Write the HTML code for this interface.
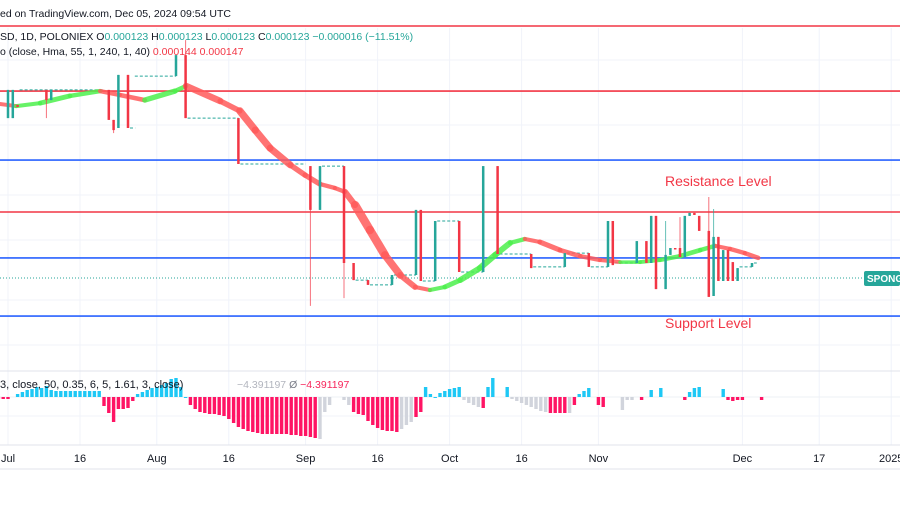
<!DOCTYPE html>
<html><head><meta charset="utf-8"><style>
body{margin:0;background:#fff;}
svg text{font-family:"Liberation Sans",sans-serif;}
</style></head><body>
<svg id="c" width="900" height="500" xmlns="http://www.w3.org/2000/svg">
<rect width="900" height="500" fill="#fff"/>
<g id="grid"></g>
<text x="0" y="17" font-size="10.5" fill="#131722">ed on TradingView.com, Dec 05, 2024 09:54 UTC</text>
<g id="levels"></g>
<g id="flats"></g>
<g id="hma"></g>
<g id="candles"></g>
<g id="osc"></g>
<text x="0" y="40" font-size="10.5" fill="#131722">SD, 1D, POLONIEX  O<tspan fill="#26a69a">0.000123</tspan>  H<tspan fill="#26a69a">0.000123</tspan>  L<tspan fill="#26a69a">0.000123</tspan>  C<tspan fill="#26a69a">0.000123</tspan>  <tspan fill="#26a69a">−0.000016 (−11.51%)</tspan></text>
<text x="0" y="55" font-size="10.5" fill="#131722">o (close, Hma, 55, 1, 240, 1, 40)  <tspan fill="#f23645">0.000144  0.000147</tspan></text>
<text x="665" y="186" font-size="14" fill="#f23645">Resistance Level</text>
<text x="665" y="328" font-size="14" fill="#f23645">Support Level</text>
<rect x="864" y="271" width="36" height="15" rx="2" fill="#26a69a"/>
<text x="867" y="282" font-size="10" font-weight="bold" fill="#fff">SPONG</text>
<text x="0" y="388" font-size="11" fill="#131722">3, close, 50, 0.35, 6, 5, 1.61, 3, close)</text>
<text x="237" y="388" font-size="10.5" fill="#b2b5be">−4.391197  <tspan fill="#787b86">Ø</tspan>  <tspan fill="#f7245a">−4.391197</tspan></text>
<g id="xaxis"></g>
</svg>
<script>
const levelPrices=[207,185.3,162.3,145,129.7,110.3];
const levelColors=["#f23645","#f23645","#2962ff","#f23645","#2962ff","#2962ff"];
const lastPrice=123;
const cDay=[-2,0,1,2,8,9,21,22,23,25,35,37,48,63,65,70,72,75,80,85,86,89,94,99,102,109,116,121,125,126,131,133,134,135,137,138,139,140,141,142,143,144,146,147,148,149,150,151,152,155];
const cOpen=[185.7,176.3,176.3,180.7,185.7,182.3,185.7,175.7,173,190.7,190.3,197.3,176.3,160.3,145.7,160.3,128,122.3,120.7,124,145.7,122,142,125,160.3,131,126.7,131.3,126.7,142,128,135.3,128,143.7,119.3,130.7,133,133,130,143.7,144.7,143.7,138.7,117,136.7,122,132.3,128.3,122,126.7];
const cClose=[176.3,185.7,185.7,180,182.3,185.7,175.7,172.3,190.7,173,197.3,176.3,161,145.7,160.3,128,122.3,120.7,124,145.7,122,142,125,160.3,131,126.3,131.3,126.7,142,127.3,135.3,128,143.7,119.3,130.7,133,132.5,130,143.7,144.7,144,138.7,116.7,136.7,122,132.3,122,122,126.3,128];
const cHigh=[185.7,185.7,185.7,180.7,185.7,185.7,185.7,175.7,190.7,190.7,197.3,202.3,176.3,160.3,160.3,160.3,128,122.3,124,145.7,145.7,142,142,160.3,160.3,131,131.3,131.3,142,142,135.3,135.3,143.7,143.7,142,133,133,143.3,143.7,144.7,144.7,143.7,150,146,136.7,132.3,132.3,128.3,126.3,128];
const cLow=[176.3,176.3,176.3,180,176.3,182.3,175.7,171.3,173,173,190.3,176.3,161,113.7,145.7,116.3,122.3,120.7,120.7,124,122,122,125,125,131,126.3,126.7,126.7,126.7,127.3,128,128,128,119.3,119.3,130.7,132.5,130,130,143.7,144,138.7,116.7,117,122,122,122,122,122,126.7];
const fStart=[2,25,26,37,48,65,72,75,80,86,89,94,102,109,116,121,126,152,155];
const fEnd=[20,26.5,35,48,62,70,75,80,85,89,94,99,109,116,121,125,131,155,156];
const fPrice=[185.7,173,190.3,176.3,161,160.3,122.3,120.7,124,122,142,125,131,126.7,131.3,126.7,128,126.7,128];
const hDay=[-1.7,1.7,6.7,12.9,19.2,23.3,28.5,34.8,37.1,44.2,48.3,51.5,54.6,58.8,61.9,65,68.1,70.2,72.3,75.4,78.5,81.7,84.8,87.9,91,94.2,98.3,101.5,104.6,107.7,110.8,115,119.2,123.3,127.5,131.7,135.8,140,144.2,147.3,150.4,153.5,156.3];
const hVal=[181,180.3,181.3,183.7,185.3,184,182.3,185.3,187,182,178.7,172.3,166.3,160.7,157.3,154.3,153,151.7,147.3,139,130.7,124,120,119,120,122.3,126.3,130.7,134.7,136,135,132.3,130.3,129,128.3,128.3,129,130.3,132.3,133.7,132.7,131.3,129.7];
const oDay=[-2,-1,0,2,3,4,5,6,7,8,9,10,11,12,13,14,15,16,17,18,19,20,21,22,23,24,25,26,27,28,29,30,31,32,33,34,35,36,37,38,39,40,41,42,43,44,45,46,47,48,49,50,51,52,53,54,55,56,57,58,59,60,61,62,63,64,65,66,67,70,71,72,73,74,75,76,77,78,79,80,81,82,83,84,85,86,87,88,89,90,91,92,93,94,95,96,97,98,99,100,101,104,105,106,107,108,109,110,111,112,113,114,115,116,117,118,119,120,121,123,124,128,129,130,132,134,136,141,142,143,144,149,150,151,152,153,157];
const oVal=[-2,-2,-2,3,5,7,8,10,9,11,7,6,6,6,6,6,6,6,6,6,6,-9,-16,-25,-12,-12,-11,-4,3,5,7,9,10,12,14,18,19,10,0,-8,-12,-15,-16,-17,-17,-18,-19,-22,-26,-30,-32,-34,-35,-36,-37,-37,-37,-37,-37,-37,-38,-38,-39,-39,-40,-41,-42,-15,-8,-3,-8,-15,-17,-18,-24,-28,-31,-33,-34,-34,-35,-32,-28,-25,-20,-15,10,3,0,4,6,8,9,10,-3,-6,-8,-10,-11,10,19,10,-2,-4,-6,-8,-10,-12,-14,-15,-16,-16,-16,-16,-16,-8,3,6,9,-8,-10,-13,-3,-3,-3,7,9,-3,5,9,10,8,-3,-4,-3,-3,-3,-4];
const tickLabels=["Jul","16","Aug","16","Sep","16","Oct","16","Nov","Dec","17","2025"];
const tickDays=[0,15,31,46,62,77,92,107,123,153,169,184];

const NS="http://www.w3.org/2000/svg";
function xS(d){return 8+d*4.8;}
function yS(p){return 278-(p-123)*3;}
function oY(v){return 397-v;}
function mk(tag,attrs,parent){const e=document.createElementNS(NS,tag);for(const k in attrs)e.setAttribute(k,attrs[k]);parent.appendChild(e);return e;}
const grid=document.getElementById('grid');
tickDays.forEach(d=>{const l=mk('line',{x1:xS(d),x2:xS(d),y1:28,y2:445,stroke:'#f0f3fa','stroke-width':1},grid);

});
[60,125,195,240,300,345].forEach(y=>{const l=mk('line',{x1:0,x2:900,y1:y,y2:y,stroke:'#f0f3fa'},grid);

});
[[371,'#e0e3eb'],[445,'#e0e3eb'],[469,'#e0e3eb'],[397,'#eef0f4'],[416,'#f0f3fa']].forEach(a=>{const l=mk('line',{x1:0,x2:900,y1:a[0],y2:a[0],stroke:a[1]},grid);

});
const lv=document.getElementById('levels');
levelPrices.forEach((p,i)=>{const l=mk('line',{x1:0,x2:900,y1:yS(p),y2:yS(p),stroke:levelColors[i],'stroke-width':1.6},lv);

});
const pl=mk('line',{x1:0,x2:900,y1:yS(lastPrice),y2:yS(lastPrice),stroke:'#26a69a','stroke-dasharray':'1 2','stroke-width':1},lv);


const fl=document.getElementById('flats');
fStart.forEach((s,i)=>{const l=mk('line',{x1:xS(s)+2,x2:xS(fEnd[i]),y1:yS(fPrice[i]),y2:yS(fPrice[i]),stroke:'#26a69a','stroke-dasharray':'3 2','stroke-width':1},fl);

});
const hg=document.getElementById('hma');
for(let i=0;i<hDay.length-1;i++){const up=hVal[i+1]>=hVal[i];const slope=Math.abs(hVal[i+1]-hVal[i]);
const l=mk('line',{x1:xS(hDay[i]),y1:yS(hVal[i]),x2:xS(hDay[i+1]),y2:yS(hVal[i+1]),stroke:up?'#4cf04c':'#ff5a5a','stroke-opacity':0.85,'stroke-width':3.5+Math.min(slope*0.6,5),'stroke-linecap':'round'},hg);

}
const cg=document.getElementById('candles');
cDay.forEach((d,i)=>{const up=cClose[i]>=cOpen[i];const col=up?'#26a69a':'#f23645';const x=xS(d);
const w=mk('line',{x1:x,x2:x,y1:yS(cHigh[i]),y2:yS(cLow[i]),stroke:col,'stroke-width':1,'stroke-opacity':0.7},cg);


const top=yS(Math.max(cOpen[i],cClose[i])),bot=yS(Math.min(cOpen[i],cClose[i]));
const b=mk('rect',{x:x-1.25,y:top,width:2.5,height:Math.max(bot-top,1.5),fill:col},cg);

});
const og=document.getElementById('osc');
oDay.forEach((d,i)=>{const v=oVal[i];const x=xS(d);
let col=v>=0?'#1ec8f5':'#ff1464';
if(v<0&&(d>=94&&d<=98||d>=104&&d<=112||d==117||d==121||d>=128&&d<=130||d==136||d==149||d==65||d==66||d==67||d==70||d==71||d>=82&&d<=84))col='#d1d4dc';
const r=mk('rect',{x:x-1.7,y:Math.min(oY(v),oY(0)),width:3.4,height:Math.max(Math.abs(v),1),fill:col},og);

});
const xa=document.getElementById('xaxis');
tickLabels.forEach((t,i)=>{const e=mk('text',{x:xS(tickDays[i]),y:462,'font-size':11,fill:'#131722','text-anchor':'middle'},xa);e.textContent=t;

});
</script>
</body></html>
